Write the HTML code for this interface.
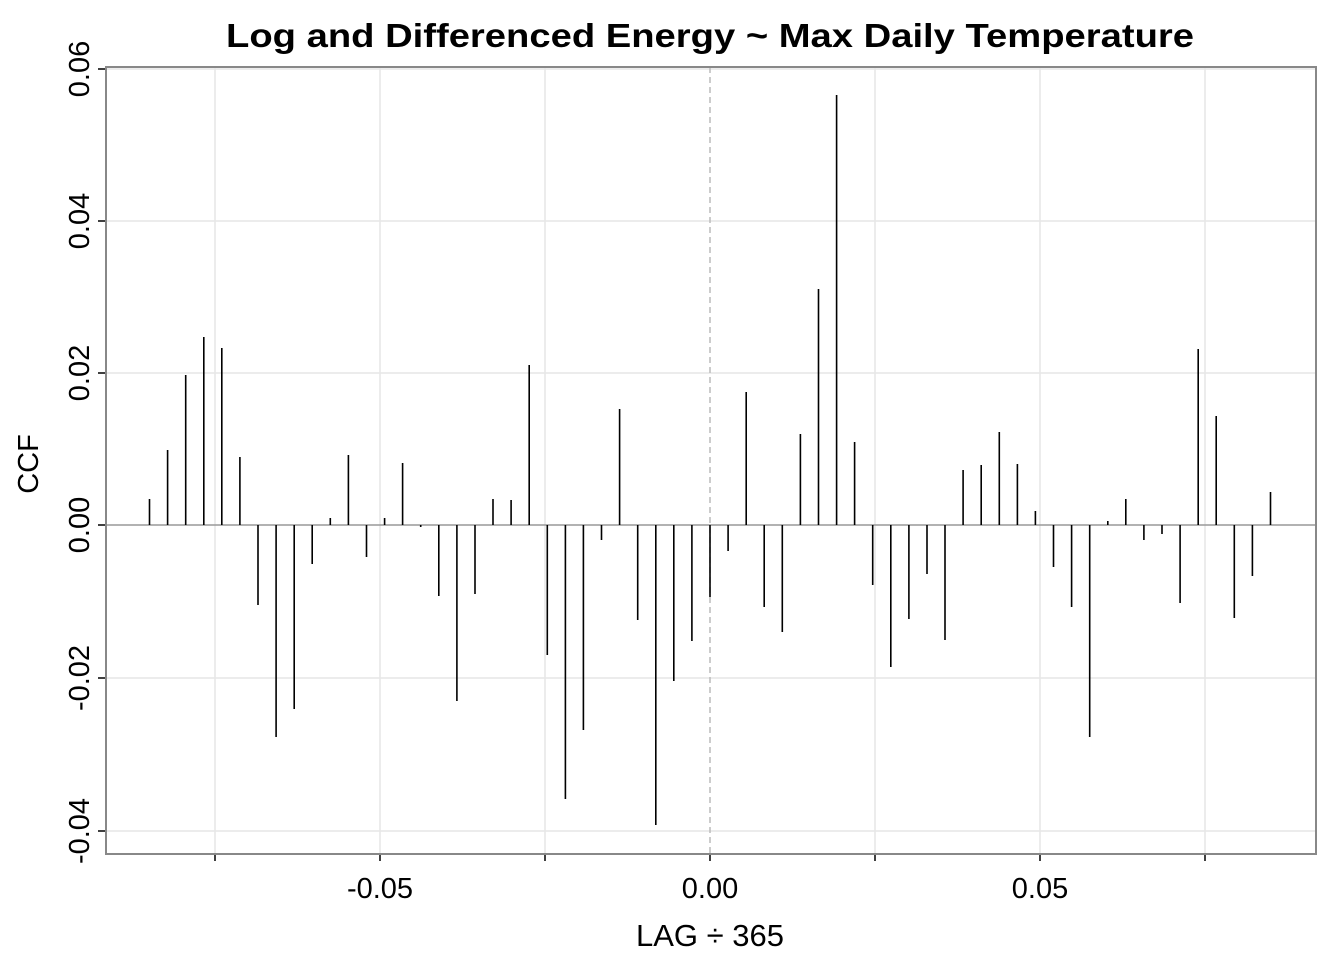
<!DOCTYPE html>
<html><head><meta charset="utf-8"><style>body{margin:0;background:#fff}svg{display:block}</style></head>
<body>
<svg width="1344" height="960" xmlns="http://www.w3.org/2000/svg" font-family="Liberation Sans, Arial, sans-serif">
<rect width="1344" height="960" fill="#fff"/>
<g stroke="#e6e6e6" stroke-width="1.5">
<path d="M215 67V854M380 67V854M545 67V854M875 67V854M1040 67V854M1205 67V854"/>
<path d="M106 69H1316M106 221H1316M106 373H1316M106 678H1316M106 831H1316"/>
</g>
<line x1="710" y1="67" x2="710" y2="854" stroke="#bbb" stroke-width="1.5" stroke-dasharray="6,4"/>
<line x1="106" y1="525" x2="1316" y2="525" stroke="#999" stroke-width="1.5"/>
<path stroke="#000" stroke-width="1.6" fill="none" d="
M149.5 525V499 M167.6 525V450 M185.7 525V375 M203.8 525V337 M221.8 525V348 M239.9 525V457 M258 525V605 M276.1 525V737 M294.2 525V709 M312.2 525V564 M330.3 525V518 M348.4 525V455 M366.5 525V557 M384.6 525V518 M402.6 525V463 M420.7 525V527 M438.8 525V596 M456.9 525V701 M475 525V594 M493 525V499 M511.1 525V500 M529.2 525V365 M547.3 525V655 M565.4 525V799 M583.4 525V730 M601.5 525V540 M619.6 525V409 M637.7 525V620 M655.8 525V825 M673.8 525V681 M691.9 525V641 M710 525V597
M728.1 525V551 M746.2 525V392 M764.2 525V607 M782.3 525V632 M800.4 525V434 M818.5 525V289 M836.6 525V95 M854.6 525V442 M872.7 525V585 M890.8 525V667 M908.9 525V619 M927 525V574 M945 525V640 M963.1 525V470 M981.2 525V465 M999.3 525V432 M1017.4 525V464 M1035.4 525V511 M1053.5 525V567 M1071.6 525V607 M1089.7 525V737 M1107.8 525V521 M1125.8 525V499 M1143.9 525V540 M1162 525V534 M1180.1 525V603 M1198.2 525V349 M1216.2 525V416 M1234.3 525V618 M1252.4 525V576 M1270.5 525V492"/>
<rect x="106" y="67" width="1210" height="787" fill="none" stroke="#888" stroke-width="2"/>
<g stroke="#000" stroke-width="1.5">
<path d="M98 69H105M98 221H105M98 373H105M98 525H105M98 678H105M98 831H105"/>
<path d="M215 855V861M380 855V861M545 855V861M710 855V861M875 855V861M1040 855V861M1205 855V861"/>
</g>
<g font-size="29" text-anchor="middle" fill="#000">
<text x="380" y="898">-0.05</text>
<text x="710" y="898">0.00</text>
<text x="1040" y="898">0.05</text>
<text transform="translate(89,69) rotate(-90)">0.06</text>
<text transform="translate(89,221) rotate(-90)">0.04</text>
<text transform="translate(89,373) rotate(-90)">0.02</text>
<text transform="translate(89,525) rotate(-90)">0.00</text>
<text transform="translate(89,678) rotate(-90)">-0.02</text>
<text transform="translate(89,831) rotate(-90)">-0.04</text>
<text x="710" y="946" font-size="31">LAG ÷ 365</text>
<text transform="translate(38,464) rotate(-90)" font-size="29">CCF</text>
</g>
<text x="710" y="47" font-size="33" font-weight="bold" text-anchor="middle" textLength="968" lengthAdjust="spacingAndGlyphs">Log and Differenced Energy ~ Max Daily Temperature</text>
</svg>
</body></html>
